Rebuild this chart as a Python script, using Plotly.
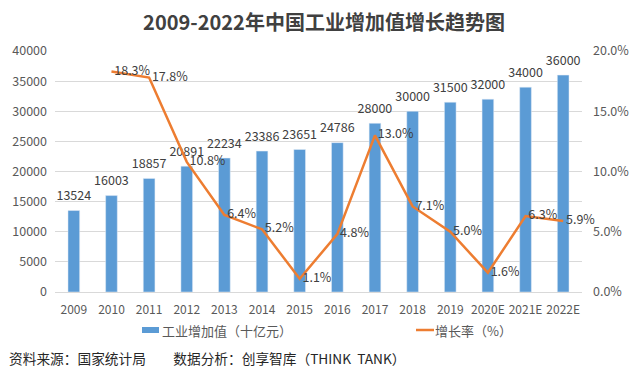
import plotly.graph_objects as go

years = ["2009", "2010", "2011", "2012", "2013", "2014", "2015", "2016",
         "2017", "2018", "2019", "2020E", "2021E", "2022E"]
value_added = [13524, 16003, 18857, 20891, 22234, 23386, 23651, 24786,
               28000, 30000, 31500, 32000, 34000, 36000]
growth_rate = [None, 18.3, 17.8, 10.8, 6.4, 5.2, 1.1, 4.8,
               13.0, 7.1, 5.0, 1.6, 6.3, 5.9]
bar_name = "工业增加值（十亿元）"
line_name = "增长率（%）"

FONT = "Noto Sans CJK SC"
BAR_COLOR = "#5B9BD5"
LINE_COLOR = "#ED7D31"

# page has an 8px body margin; figure sized to fill the 640x377 window
OFF = 8
W, H = 640 - OFF, 377 - OFF
PL, PR, PT, PB = 55, 582, 51, 292  # plot area in page pixels
L, R, T, B = PL - OFF, W - (PR - OFF), PT - OFF, H - (PB - OFF)
pw, ph = PR - PL, PB - PT


def px_x(x):
    return (x - PL) / pw


def px_y(y):
    return (PB - y) / ph


fig = go.Figure()
fig.add_trace(go.Bar(
    x=years, y=value_added, name=bar_name,
    marker_color=BAR_COLOR, width=0.31,
    showlegend=False,
))
# value labels above the bars (invisible markers give a little extra offset)
fig.add_trace(go.Scatter(
    x=years, y=value_added, mode="markers+text",
    marker=dict(size=10, opacity=0),
    text=[str(v) for v in value_added], textposition="top center",
    textfont=dict(size=12.5, color="#404040", family=FONT),
    cliponaxis=False, showlegend=False, hoverinfo="skip",
))
fig.add_trace(go.Scatter(
    x=years, y=growth_rate, name=line_name, yaxis="y2",
    mode="lines+text", line=dict(color=LINE_COLOR, width=2.5),
    text=[None if g is None else f"\u00a0{g:.1f}%" for g in growth_rate],
    textposition="middle right",
    textfont=dict(size=12.5, color="#404040", family=FONT),
    cliponaxis=False, showlegend=False,
))

legend_y = 330
shapes = [
    dict(type="rect", xref="paper", yref="paper",
         x0=px_x(142), x1=px_x(159), y0=px_y(legend_y + 3), y1=px_y(legend_y - 3),
         fillcolor=BAR_COLOR, line=dict(width=0)),
    dict(type="line", xref="paper", yref="paper",
         x0=px_x(416), x1=px_x(434), y0=px_y(legend_y), y1=px_y(legend_y),
         line=dict(color=LINE_COLOR, width=2.5)),
]
annotations = [
    dict(text=bar_name, x=px_x(160), y=px_y(legend_y), xref="paper", yref="paper",
         xanchor="left", yanchor="middle", showarrow=False,
         font=dict(size=13, color="#595959", family=FONT)),
    dict(text=line_name, x=px_x(433), y=px_y(legend_y), xref="paper", yref="paper",
         xanchor="left", yanchor="middle", showarrow=False,
         font=dict(size=13, color="#595959", family=FONT)),
    dict(text="资料来源：国家统计局　　数据分析：创享智库（THINK  TANK）",
         x=px_x(7), y=px_y(358), xref="paper", yref="paper",
         xanchor="left", yanchor="middle", showarrow=False,
         font=dict(size=13.7, color="#262626", family=FONT)),
]

fig.update_layout(
    width=W, height=H, showlegend=False,
    margin=dict(l=L, r=R, t=T, b=B, autoexpand=False),
    paper_bgcolor="white", plot_bgcolor="white",
    font=dict(family=FONT, color="#595959", size=12),
    title=dict(text="<b>2009-2022年中国工业增加值增长趋势图</b>",
               x=0.5, xref="container", xanchor="center",
               y=1 - (23 - OFF) / H, yref="container", yanchor="middle",
               font=dict(size=20, color="#404040", family=FONT)),
    xaxis=dict(type="category", range=[-0.5, len(years) - 0.5],
               showgrid=False, showline=True,
               linecolor="#d9d9d9", ticks="", tickfont=dict(size=12),
               ticklabelstandoff=7, automargin=False),
    yaxis=dict(range=[0, 40000], dtick=5000, showgrid=True,
               tickformat="d", automargin=False,
               gridcolor="#d9d9d9", zeroline=False, ticks="",
               tickfont=dict(size=12.5), ticklabelstandoff=7),
    yaxis2=dict(range=[0, 20], dtick=5, overlaying="y", side="right",
                showgrid=False, zeroline=False, tickformat=".1f",
                ticksuffix="%", tickfont=dict(size=12.5),
                ticklabelstandoff=10, automargin=False),
    shapes=shapes,
    annotations=annotations,
)

fig.write_html("out.html")
